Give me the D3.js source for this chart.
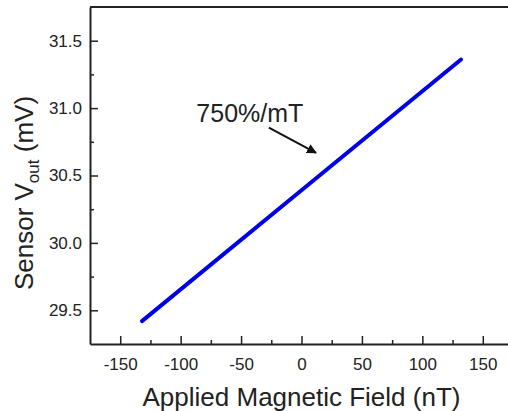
<!DOCTYPE html>
<html><head><meta charset="utf-8">
<script src="https://cdn.jsdelivr.net/npm/d3@7"></script>
<style>
html,body{margin:0;padding:0;background:#fff;}
svg{display:block;font-family:"Liberation Sans",Arial,sans-serif;}
</style></head>
<body>
<script>
// Data
const fieldNT = [-132, 0, 132];
const voutMV = [29.42, 30.39, 31.36];
const xTicks = [-150, -100, -50, 0, 50, 100, 150];
const yTicks = [29.5, 30.0, 30.5, 31.0, 31.5];
const annotationText = ["750%/mT"];
const arrowFrom = [-27, 30.855];
const arrowTo = [12, 30.668];

const W = 508, H = 411;
const m = {left: 90, top: 7, right: -5, bottom: 67};
const svg = d3.select("body").append("svg").attr("width", W).attr("height", H);

const x = d3.scaleLinear().domain([-175, 175]).range([m.left, W - m.right]);
const y = d3.scaleLinear().domain([29.25, 31.75]).range([H - m.bottom, m.top]);

const ink = "#222";

// Minor ticks
const xMinor = d3.range(-175, 176, 25).filter(v => !xTicks.includes(v) && v > -175 && v < 175);
const yMinor = [29.75, 30.25, 30.75, 31.25];

// X axis (ticks inward)
const gx = svg.append("g").attr("transform", `translate(0,${y(29.25)})`);
gx.call(d3.axisBottom(x).tickValues(xTicks).tickSize(-8).tickPadding(14)
  .tickFormat(d => String(d)).tickSizeOuter(0));
gx.selectAll(".tick text").attr("font-size", 17).attr("fill", ink).attr("font-family", "Liberation Sans, Arial");
gx.append("g").call(d3.axisBottom(x).tickValues(xMinor).tickSize(-4).tickFormat("")).select(".domain").remove();

// Y axis
const gy = svg.append("g").attr("transform", `translate(${x(-175)},0)`);
gy.call(d3.axisLeft(y).tickValues(yTicks).tickSize(-8).tickPadding(8)
  .tickFormat(d => d.toFixed(1)).tickSizeOuter(0));
gy.selectAll(".tick text").attr("font-size", 17).attr("fill", ink).attr("font-family", "Liberation Sans, Arial");
gy.append("g").call(d3.axisLeft(y).tickValues(yMinor).tickSize(-4).tickFormat("")).select(".domain").remove();

svg.selectAll(".domain").attr("stroke", ink).attr("stroke-width", 2);
svg.selectAll(".tick line").attr("stroke", ink).attr("stroke-width", 1.5);

// Frame top and right
svg.append("line").attr("x1", x(-175)).attr("x2", x(175)).attr("y1", y(31.75)).attr("y2", y(31.75))
  .attr("stroke", ink).attr("stroke-width", 2);
svg.append("line").attr("x1", x(175)).attr("x2", x(175)).attr("y1", y(31.75)).attr("y2", y(29.25))
  .attr("stroke", ink).attr("stroke-width", 2);

// Data line
const pts = fieldNT.map((v, i) => [v, voutMV[i]]);
svg.append("path").datum(pts)
  .attr("d", d3.line().x(d => x(d[0])).y(d => y(d[1])))
  .attr("fill", "none").attr("stroke", "#0000e6").attr("stroke-width", 4).attr("stroke-linecap", "round");

// Annotation
svg.append("defs").append("marker").attr("id", "ah").attr("viewBox", "0 0 10 10")
  .attr("refX", 9).attr("refY", 5).attr("markerWidth", 5).attr("markerHeight", 5)
  .attr("orient", "auto").append("path").attr("d", "M0,0 L10,5 L0,10 z").attr("fill", "#111");
svg.append("line").attr("x1", x(arrowFrom[0])).attr("y1", y(arrowFrom[1]))
  .attr("x2", x(arrowTo[0])).attr("y2", y(arrowTo[1]))
  .attr("stroke", "#111").attr("stroke-width", 2).attr("marker-end", "url(#ah)");
svg.append("text").attr("x", x(-87)).attr("y", y(30.9))
  .attr("font-size", 25).attr("fill", ink).text(annotationText[0]);

// Axis titles
svg.append("text").attr("x", x(0)).attr("y", 406).attr("text-anchor", "middle")
  .attr("font-size", 26).attr("fill", ink).text("Applied Magnetic Field (nT)");
const yt = svg.append("text").attr("transform", "translate(33,193) rotate(-90)")
  .attr("text-anchor", "middle").attr("font-size", 26).attr("fill", ink);
yt.append("tspan").text("Sensor V");
yt.append("tspan").attr("font-size", 17).attr("dy", 6).text("out");
yt.append("tspan").attr("dy", -6).text(" (mV)");
</script>
</body></html>
